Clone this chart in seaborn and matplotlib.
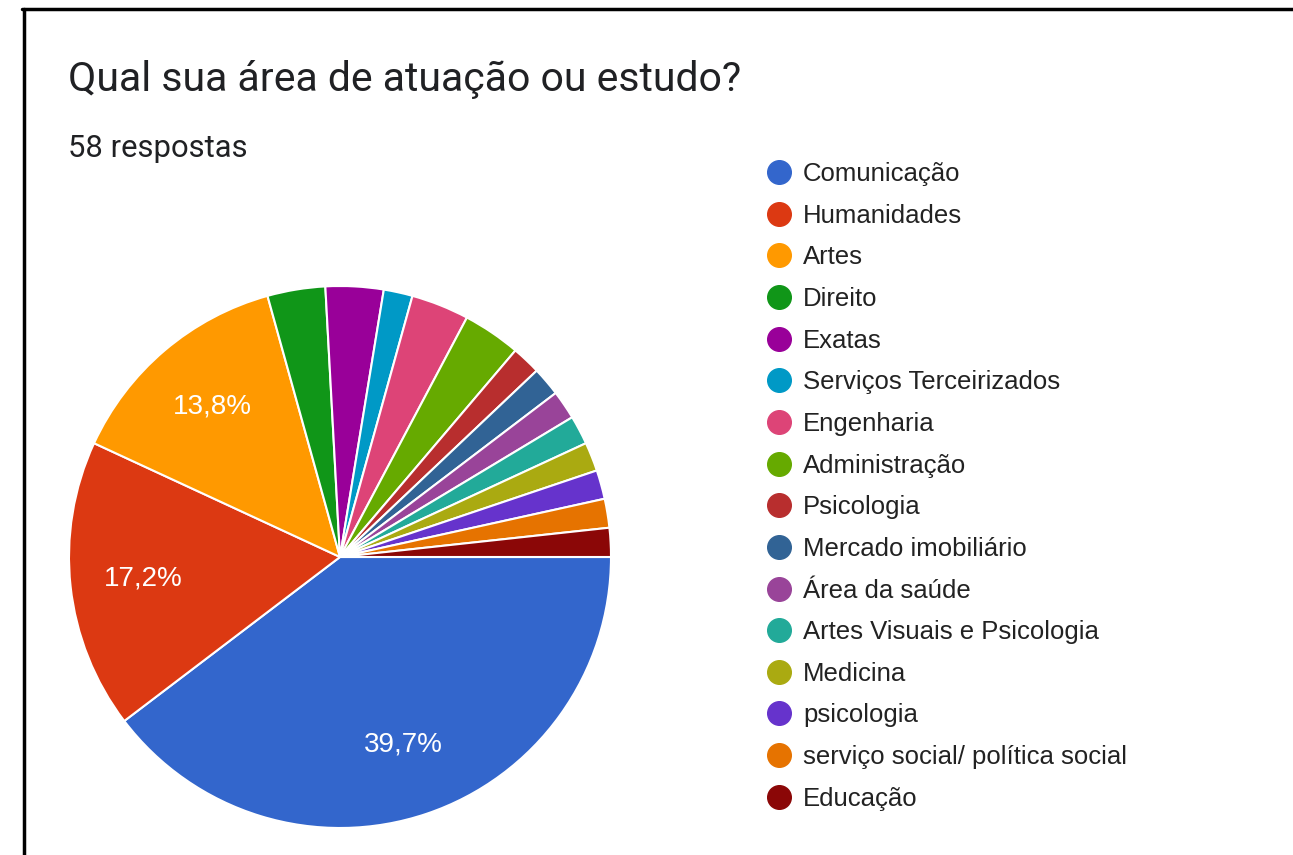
import matplotlib
matplotlib.use("Agg")
import matplotlib.pyplot as plt
from matplotlib.lines import Line2D
import seaborn as sns

sns.set_style("white")
plt.rcParams['font.family'] = ['Liberation Sans', 'DejaVu Sans']

areas = ['Comunicação', 'Humanidades', 'Artes', 'Direito', 'Exatas',
         'Serviços Terceirizados', 'Engenharia', 'Administração', 'Psicologia',
         'Mercado imobiliário', 'Área da saúde', 'Artes Visuais e Psicologia',
         'Medicina', 'psicologia', 'serviço social/ política social', 'Educação']
respostas = [23, 10, 8, 2, 2, 1, 2, 2, 1, 1, 1, 1, 1, 1, 1, 1]
cores = ['#3366cc', '#dc3912', '#ff9900', '#109618', '#990099', '#0099c6',
         '#dd4477', '#66aa00', '#b82e2e', '#316395', '#994499', '#22aa99',
         '#aaaa11', '#6633cc', '#e67300', '#8b0707']

titulo = 'Qual sua área de atuação ou estudo?'
subtitulo = '58 respostas'


def rotulo(pct):
    # so as fatias grandes levam o percentual
    if pct < 10:
        return ''
    return f'{pct:.1f}%'.replace('.', ',')


W, H = 1293, 855
fig = plt.figure(figsize=(W / 100, H / 100), dpi=100)

ax = fig.add_axes([69 / W, 27 / H, 542 / W, 542 / H])
wedges, texts, autotexts = ax.pie(
    respostas, colors=cores, startangle=0, counterclock=False,
    autopct=rotulo, pctdistance=0.73, radius=1,
    wedgeprops=dict(edgecolor='white', linewidth=1.5),
    textprops=dict(color='white', fontsize=20, fontfamily='Liberation Sans'))
ax.set_xlim(-1, 1)
ax.set_ylim(-1, 1)

fig.text(68 / W, 1 - 91 / H, titulo, fontfamily='Roboto', fontsize=29.5,
         color='#202124', va='baseline')
fig.text(68 / W, 1 - 157 / H, subtitulo, fontfamily='Roboto', fontsize=22.3,
         color='#202124', va='baseline')

handles = [Line2D([], [], marker='o', ls='', markersize=17,
                  markerfacecolor=c, markeredgecolor=c) for c in cores]
fig.legend(handles, areas, loc='upper left', bbox_to_anchor=(766 / W, 1 - 162 / H),
           frameon=False, labelspacing=0.687, handletextpad=0.44,
           handlelength=1, borderpad=0, borderaxespad=0, labelcolor='#222222',
           prop=dict(family='Liberation Sans', size=18.5))

# borda do recorte (so topo e esquerda)
fig.add_artist(Line2D([22 / W, 1], [1 - 9.5 / H, 1 - 9.5 / H], color='black', lw=2.5))
fig.add_artist(Line2D([23.5 / W, 23.5 / W], [0, 1 - 9.5 / H], color='black', lw=2.5))

fig.savefig('out.png', dpi=100, facecolor='white')
